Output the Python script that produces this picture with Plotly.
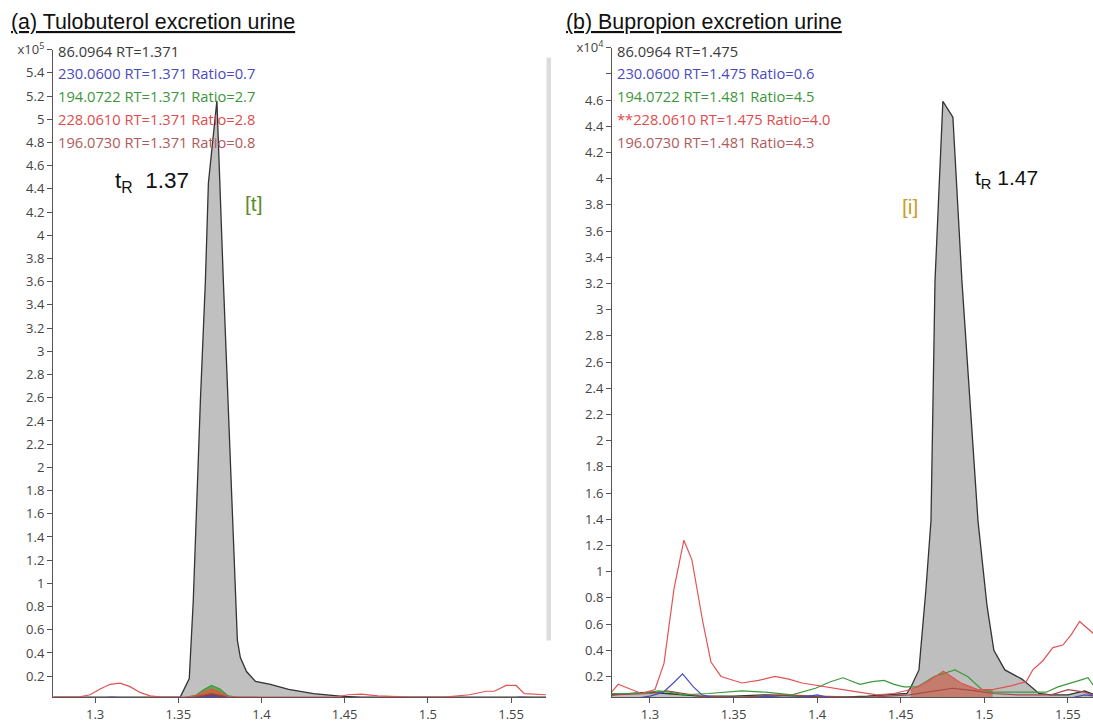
import plotly.graph_objects as go

# ---------------- data : panel (a) Tulobuterol ----------------
a_86_x = [1.275, 1.30, 1.33, 1.345, 1.3512, 1.3566, 1.3578, 1.359, 1.3633, 1.3663, 1.3681, 1.3732,
          1.3771, 1.3813, 1.3843, 1.3855, 1.3873, 1.391, 1.3964, 1.4054, 1.4163, 1.4313, 1.4488,
          1.46, 1.50, 1.54, 1.571]
a_86_y = [0.02, 0.02, 0.02, 0.02, 0.02, 0.18, 0.51, 0.85, 2.58, 3.61, 4.45, 5.16,
          3.60, 2.10, 1.00, 0.51, 0.36, 0.24, 0.155, 0.13, 0.086, 0.05, 0.026,
          0.02, 0.02, 0.02, 0.02]

a_230_x = [1.275, 1.30, 1.31, 1.32, 1.35, 1.365, 1.37, 1.375, 1.39, 1.45, 1.55, 1.555, 1.571]
a_230_y = [0.005, 0.01, 0.02, 0.01, 0.01, 0.02, 0.03, 0.02, 0.01, 0.01, 0.01, 0.02, 0.01]

a_194_x = [1.275, 1.35, 1.36, 1.365, 1.37, 1.375, 1.38, 1.39, 1.571]
a_194_y = [0.01, 0.01, 0.03, 0.08, 0.12, 0.09, 0.03, 0.01, 0.01]

a_228_x = [1.275, 1.29, 1.297, 1.303, 1.309, 1.315, 1.321, 1.327, 1.333, 1.34, 1.355, 1.362,
           1.366, 1.37, 1.374, 1.38, 1.40, 1.445, 1.452, 1.46, 1.47, 1.49, 1.51, 1.525,
           1.535, 1.54, 1.547, 1.553, 1.558, 1.571]
a_228_y = [0.02, 0.02, 0.04, 0.09, 0.13, 0.14, 0.11, 0.06, 0.03, 0.02, 0.02, 0.04,
           0.07, 0.09, 0.07, 0.025, 0.02, 0.02, 0.04, 0.045, 0.03, 0.02, 0.02, 0.04,
           0.07, 0.07, 0.12, 0.12, 0.05, 0.04]

a_196_x = [1.275, 1.355, 1.363, 1.37, 1.377, 1.385, 1.571]
a_196_y = [0.015, 0.015, 0.03, 0.05, 0.03, 0.015, 0.015]

# ---------------- data : panel (b) Bupropion ----------------
b_86_x = [1.277, 1.29, 1.30, 1.31, 1.32, 1.33, 1.35, 1.37, 1.39, 1.41, 1.43, 1.445, 1.4537,
          1.4561, 1.4609, 1.4651, 1.4681, 1.4705, 1.4752, 1.4812, 1.4866, 1.4962, 1.5016,
          1.5057, 1.5123, 1.5225, 1.5327, 1.54, 1.55, 1.56, 1.566]
b_86_y = [0.06, 0.07, 0.08, 0.07, 0.06, 0.05, 0.05, 0.06, 0.05, 0.04, 0.05, 0.06, 0.07,
          0.12, 0.25, 0.87, 1.39, 3.22, 4.59, 4.47, 3.22, 1.39, 0.74,
          0.40, 0.25, 0.18, 0.07, 0.06, 0.06, 0.09, 0.06]

b_230_x = [1.277, 1.29, 1.30, 1.308, 1.314, 1.3195, 1.326, 1.331, 1.34, 1.355, 1.37, 1.38,
           1.39, 1.40, 1.41, 1.44, 1.47, 1.50, 1.53, 1.55, 1.56, 1.566]
b_230_y = [0.03, 0.03, 0.05, 0.08, 0.15, 0.22, 0.12, 0.06, 0.03, 0.03, 0.05, 0.04,
           0.04, 0.06, 0.03, 0.02, 0.02, 0.02, 0.03, 0.03, 0.06, 0.05]

b_194_x = [1.277, 1.295, 1.305, 1.312, 1.32, 1.335, 1.355, 1.369, 1.385, 1.399, 1.408, 1.4154,
           1.4256, 1.433, 1.44, 1.446, 1.452, 1.46, 1.47, 1.4824, 1.49, 1.4985, 1.505, 1.52,
           1.537, 1.544, 1.551, 1.557, 1.562, 1.566]
b_194_y = [0.07, 0.07, 0.09, 0.08, 0.06, 0.07, 0.09, 0.08, 0.06, 0.11, 0.16, 0.19,
           0.14, 0.16, 0.17, 0.14, 0.12, 0.12, 0.20, 0.25, 0.20, 0.10, 0.08, 0.08,
           0.08, 0.12, 0.15, 0.17, 0.19, 0.12]

b_228_x = [1.277, 1.281, 1.287, 1.295, 1.303, 1.3084, 1.3144, 1.3203, 1.3251, 1.3317, 1.3365,
           1.3425, 1.355, 1.365, 1.3748, 1.383, 1.391, 1.407, 1.42, 1.4358, 1.446, 1.456,
           1.466, 1.4755, 1.486, 1.496, 1.505, 1.5165, 1.525, 1.529, 1.535, 1.541, 1.547,
           1.552, 1.557, 1.566]
b_228_y = [0.08, 0.14, 0.11, 0.07, 0.10, 0.30, 0.87, 1.24, 1.09, 0.61, 0.31,
           0.20, 0.15, 0.17, 0.20, 0.18, 0.15, 0.12, 0.09, 0.06, 0.07, 0.10,
           0.16, 0.24, 0.15, 0.10, 0.10, 0.13, 0.16, 0.25, 0.32, 0.42, 0.44,
           0.52, 0.62, 0.52]

b_196_x = [1.277, 1.30, 1.31, 1.32, 1.33, 1.35, 1.38, 1.40, 1.43, 1.455, 1.47, 1.481, 1.495,
           1.505, 1.52, 1.54, 1.55, 1.56, 1.566]
b_196_y = [0.06, 0.07, 0.09, 0.07, 0.05, 0.04, 0.06, 0.05, 0.04, 0.06, 0.09, 0.11, 0.09,
           0.07, 0.06, 0.06, 0.10, 0.08, 0.05]

# legend / label texts
a_labels = ["86.0964 RT=1.371", "230.0600 RT=1.371 Ratio=0.7", "194.0722 RT=1.371 Ratio=2.7",
            "228.0610 RT=1.371 Ratio=2.8", "196.0730 RT=1.371 Ratio=0.8"]
b_labels = ["86.0964 RT=1.475", "230.0600 RT=1.475 Ratio=0.6", "194.0722 RT=1.481 Ratio=4.5",
            "**228.0610 RT=1.475 Ratio=4.0", "196.0730 RT=1.481 Ratio=4.3"]
titles = ["(a) Tulobuterol excretion urine", "(b) Bupropion excretion urine"]

a_yticks = [0.2, 0.4, 0.6, 0.8, 1, 1.2, 1.4, 1.6, 1.8, 2, 2.2, 2.4, 2.6, 2.8, 3, 3.2, 3.4,
            3.6, 3.8, 4, 4.2, 4.4, 4.6, 4.8, 5, 5.2, 5.4, 5.6]
b_yticks = [0.2, 0.4, 0.6, 0.8, 1, 1.2, 1.4, 1.6, 1.8, 2, 2.2, 2.4, 2.6, 2.8, 3, 3.2, 3.4,
            3.6, 3.8, 4, 4.2, 4.4, 4.6, 4.8, 5.0]
xticks = [1.3, 1.35, 1.4, 1.45, 1.5, 1.55]

# ---------------- styles ----------------
C86 = "#333333"
C230 = "#4b4bc4"
C194 = "#3a9a3a"
C228 = "#e25454"
C196 = "#a84848"
TXT = {C86: "#3a3a3a", C230: "#4a4ac0", C194: "#3c963c", C228: "#e04c4c", C196: "#b05a5a"}
colors = [C86, C230, C194, C228, C196]

W, H = 1093, 727
Y0, HS = 10.3, 716.3   # observed vertical mapping of paper coords to page pixels
def px(x):
    return x / W
def py(y):
    return 1 - (y - Y0) / HS

fig = go.Figure()

def seg(xs, ys, lo, hi):
    sx, sy = [], []
    for a, b in zip(xs, ys):
        if lo <= a <= hi:
            sx.append(a)
            sy.append(b)
    return sx, sy

# panel a
fig.add_trace(go.Scatter(x=a_86_x, y=a_86_y, mode="lines", fill="tozeroy",
                         fillcolor="rgb(192,192,192)", line=dict(color=C86, width=1.3),
                         xaxis="x", yaxis="y", showlegend=False))
for xs, ys, fc in [(a_194_x, a_194_y, "rgba(70,170,60,0.85)"),
                   (a_228_x, a_228_y, "rgba(220,90,50,0.75)"),
                   (a_196_x, a_196_y, "rgba(140,30,40,0.7)")]:
    sx, sy = seg(xs, ys, 1.355, 1.385)
    fig.add_trace(go.Scatter(x=sx, y=sy, mode="lines", fill="tozeroy", fillcolor=fc,
                             line=dict(width=0), xaxis="x", yaxis="y", showlegend=False))
for xs, ys, c in [(a_196_x, a_196_y, C196), (a_230_x, a_230_y, C230),
                  (a_194_x, a_194_y, C194), (a_228_x, a_228_y, C228)]:
    fig.add_trace(go.Scatter(x=xs, y=ys, mode="lines", line=dict(color=c, width=1.2),
                             xaxis="x", yaxis="y", showlegend=False))

# panel b
fig.add_trace(go.Scatter(x=b_86_x, y=b_86_y, mode="lines", fill="tozeroy",
                         fillcolor="rgb(190,190,190)", line=dict(color=C86, width=1.3),
                         xaxis="x2", yaxis="y2", showlegend=False))
sx, sy = seg(b_228_x, b_228_y, 1.455, 1.506)
fig.add_trace(go.Scatter(x=sx, y=sy, mode="lines", fill="tozeroy",
                         fillcolor="rgba(200,70,40,0.55)", line=dict(width=0),
                         xaxis="x2", yaxis="y2", showlegend=False))
for xs, ys, c in [(b_196_x, b_196_y, C196), (b_230_x, b_230_y, C230),
                  (b_194_x, b_194_y, C194), (b_228_x, b_228_y, C228)]:
    fig.add_trace(go.Scatter(x=xs, y=ys, mode="lines", line=dict(color=c, width=1.2),
                             xaxis="x2", yaxis="y2", showlegend=False))

tickfont = dict(family="Open Sans", size=13, color="#444444")
axis_common = dict(showline=True, linecolor="#555555", linewidth=1, ticks="outside",
                   tickcolor="#555555", ticklen=5, showgrid=False, zeroline=False,
                   tickfont=tickfont)

def ytext(vals, exp):
    out = []
    for v in vals:
        if v == vals[-1]:
            out.append("x10<sup>%d</sup>" % exp)
        elif exp == 4 and abs(v - 4.8) < 1e-9:
            out.append(" ")
        else:
            out.append("%g" % v)
    return out

fig.update_layout(
    width=W, height=H, margin=dict(l=0, r=0, t=0, b=0),
    paper_bgcolor="white", plot_bgcolor="white",
    xaxis=dict(domain=[px(53), px(546)], range=[1.2747, 1.571], anchor="y",
               tickvals=xticks, ticktext=["%g" % v for v in xticks], **axis_common),
    yaxis=dict(domain=[py(697), py(49)], range=[0.017, 5.6], anchor="x",
               tickvals=a_yticks, ticktext=ytext(a_yticks, 5), **axis_common),
    xaxis2=dict(domain=[px(612), 1.0], range=[1.2773, 1.565], anchor="y2",
                tickvals=xticks, ticktext=["%g" % v for v in xticks], **axis_common),
    yaxis2=dict(domain=[py(697), py(47)], range=[0.04, 5.0], anchor="x2",
                tickvals=b_yticks, ticktext=ytext(b_yticks, 4), **axis_common),
)

ann = []
# titles
for xx, t in [(9, titles[0]), (564, titles[1])]:
    ann.append(dict(x=px(xx), y=py(21), xref="paper", yref="paper", xanchor="left",
                    yanchor="middle", text="<u>%s</u>" % t, showarrow=False,
                    font=dict(family="Liberation Sans", size=21.4, color="#111111")))
# legend text blocks
for i, (la, lb) in enumerate(zip(a_labels, b_labels)):
    yy = py(50 + i * 22.8)
    c = TXT[colors[i]]
    ann.append(dict(x=px(56), y=yy, xref="paper", yref="paper", xanchor="left", yanchor="middle",
                    text=la, showarrow=False, font=dict(family="Open Sans", size=14.7, color=c)))
    ann.append(dict(x=px(615), y=yy, xref="paper", yref="paper", xanchor="left", yanchor="middle",
                    text=lb, showarrow=False, font=dict(family="Open Sans", size=14.7, color=c)))
# retention time labels
ann.append(dict(x=px(113), y=py(181), xref="paper", yref="paper", xanchor="left", yanchor="middle",
                text="t<sub>R</sub>&nbsp; 1.37", showarrow=False,
                font=dict(family="Liberation Sans", size=22.5, color="#111111")))
ann.append(dict(x=px(973), y=py(178), xref="paper", yref="paper", xanchor="left", yanchor="middle",
                text="t<sub>R</sub> 1.47", showarrow=False,
                font=dict(family="Liberation Sans", size=21, color="#111111")))
ann.append(dict(x=px(243), y=py(203), xref="paper", yref="paper", xanchor="left", yanchor="middle",
                text="[t]", showarrow=False,
                font=dict(family="Liberation Sans", size=21, color="#5a8c2c")))
ann.append(dict(x=px(900), y=py(206), xref="paper", yref="paper", xanchor="left", yanchor="middle",
                text="[i]", showarrow=False,
                font=dict(family="Liberation Sans", size=21, color="#c8a02a")))
fig.update_layout(annotations=ann)

# scrollbar-like gray strip between panels
fig.add_shape(type="rect", xref="paper", yref="paper", x0=px(546.5), x1=px(551),
              y0=py(640), y1=py(57), line=dict(width=0), fillcolor="#dcdcdc")

fig.write_html("out.html")
